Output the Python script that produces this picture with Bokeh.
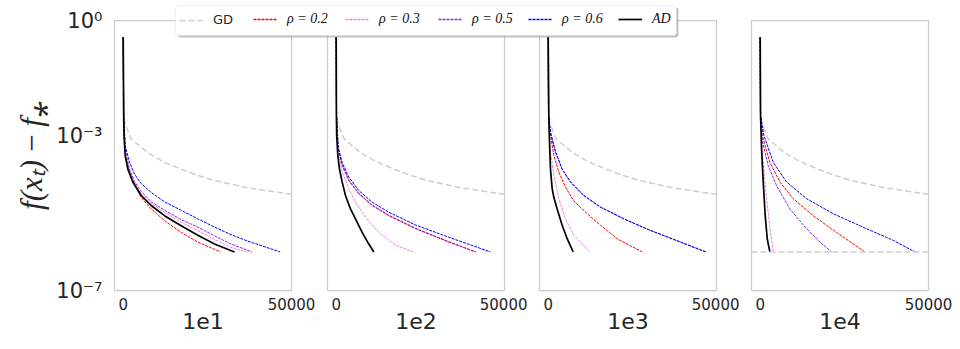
from bokeh.plotting import figure
from bokeh.models import (Range1d, FixedTicker, CustomJSTickFormatter, Span, Legend,
                          LegendItem, BoxAnnotation)
from bokeh.layouts import row, column
from bokeh.embed import file_html
from bokeh.resources import INLINE

# ---------------- data ----------------
PANELS = ["1e1", "1e2", "1e3", "1e4"]
X_TICKS = [0, 50000]
Y_TICKS = [1e-7, 1e-3, 1e0]
TOL = 1e-6
SERIES = ["GD", "ρ = 0.2", "ρ = 0.3", "ρ = 0.5", "ρ = 0.6", "AD"]

gd_x = [0, 100, 387, 2367, 7317, 12270, 17222, 22173, 27125, 37040, 50000]
gd_y = [3.7e-1, 5.0e-3, 2.3e-3, 8.5e-4, 3.7e-4, 2.1e-4, 1.4e-4, 9.6e-5, 7.1e-5, 4.6e-5, 3.1e-5]

# panel 1e1
r02_1e1_x = [0, 150, 387, 1377, 2862, 5338, 8307, 12270, 17222, 22173, 28907]
r02_1e1_y = [3.7e-1, 3.5e-3, 5.8e-4, 1.75e-4, 7.1e-5, 2.6e-5, 1.3e-5, 6.5e-6, 3.2e-6, 1.8e-6, 1.0e-6]
r03_1e1_x = [0, 150, 584, 1872, 3357, 5338, 8307, 12270, 17222, 22173, 27125, 32077, 36830]
r03_1e1_y = [3.7e-1, 3.5e-3, 3.9e-4, 1.3e-4, 5.9e-5, 3.2e-5, 1.8e-5, 1.07e-5, 5.9e-6, 3.6e-6, 2.1e-6, 1.3e-6, 1.0e-6]
r05_1e1_x = [0, 150, 584, 1872, 3357, 5338, 8307, 12270, 17222, 22173, 27125, 32077, 38220]
r05_1e1_y = [3.7e-1, 3.5e-3, 4.3e-4, 1.4e-4, 6.7e-5, 3.7e-5, 2.0e-5, 1.2e-5, 6.9e-6, 4.4e-6, 2.6e-6, 1.6e-6, 1.0e-6]
r06_1e1_x = [0, 150, 584, 1872, 3357, 5338, 8307, 12270, 17222, 22173, 27125, 32077, 37040, 46640]
r06_1e1_y = [3.7e-1, 3.5e-3, 5.8e-4, 2.1e-4, 1.05e-4, 5.9e-5, 3.5e-5, 2.0e-5, 1.2e-5, 7.2e-6, 4.4e-6, 2.8e-6, 1.9e-6, 1.0e-6]
ad_1e1_x = [0, 150, 250, 584, 1377, 2862, 5338, 8307, 12270, 17222, 22173, 27125, 33067]
ad_1e1_y = [3.7e-1, 3.5e-3, 1.05e-3, 3.2e-4, 1.4e-4, 6.5e-5, 2.9e-5, 1.6e-5, 8.7e-6, 4.8e-6, 2.7e-6, 1.6e-6, 1.0e-6]

# panel 1e2
r02_1e2_x = [0, 100, 584, 1773, 3754, 6725, 10686, 15637, 23560, 33463, 41584]
r02_1e2_y = [3.7e-1, 3.5e-3, 4.7e-4, 1.75e-4, 7.1e-5, 3.2e-5, 1.6e-5, 8.7e-6, 4.0e-6, 1.8e-6, 1.0e-6]
r03_1e2_x = [0, 100, 584, 1773, 3754, 5734, 8705, 12666, 17617, 22866]
r03_1e2_y = [3.7e-1, 3.5e-3, 3.9e-4, 1.17e-4, 4.4e-5, 1.95e-5, 7.9e-6, 3.2e-6, 1.5e-6, 1.0e-6]
r05_1e2_x = [0, 100, 584, 1773, 3754, 6725, 10686, 15637, 23560, 33463, 41300]
r05_1e2_y = [3.7e-1, 3.5e-3, 4.8e-4, 1.8e-4, 7.3e-5, 3.3e-5, 1.65e-5, 9.0e-6, 4.1e-6, 1.85e-6, 1.0e-6]
r06_1e2_x = [0, 100, 584, 1773, 3754, 6725, 10686, 15637, 23560, 33463, 45840]
r06_1e2_y = [3.7e-1, 3.5e-3, 5.2e-4, 2.1e-4, 8.7e-5, 3.9e-5, 1.95e-5, 1.07e-5, 5.0e-6, 2.4e-6, 1.0e-6]
ad_1e2_x = [0, 60, 150, 485, 980, 1773, 2763, 4248, 5734, 7715, 9695, 11180]
ad_1e2_y = [3.7e-1, 3.5e-3, 1.05e-3, 3.2e-4, 1.4e-4, 6.5e-5, 2.9e-5, 1.3e-5, 7.2e-6, 3.2e-6, 1.6e-6, 1.0e-6]

# panel 1e3
r02_1e3_x = [0, 100, 683, 1674, 3160, 5140, 7616, 11577, 15539, 20490, 27918]
r02_1e3_y = [3.7e-1, 3.5e-3, 1.05e-3, 3.2e-4, 1.17e-4, 4.8e-5, 2.1e-5, 9.8e-6, 4.9e-6, 2.2e-6, 1.0e-6]
r03_1e3_x = [0, 100, 683, 1674, 3160, 5140, 7616, 12370]
r03_1e3_y = [3.7e-1, 3.5e-3, 3.9e-4, 9.6e-5, 2.4e-5, 7.2e-6, 2.7e-6, 1.0e-6]
r05_1e3_x = [0, 100, 683, 2169, 4150, 6626, 10587, 15539, 22471, 30394, 39307, 46700]
r05_1e3_y = [3.7e-1, 3.5e-3, 1.26e-3, 3.9e-4, 1.4e-4, 6.5e-5, 2.9e-5, 1.45e-5, 7.2e-6, 3.6e-6, 1.8e-6, 1.0e-6]
r06_1e3_x = [0, 100, 683, 2169, 4150, 6626, 10587, 15539, 22471, 30394, 39307, 46932]
r06_1e3_y = [3.7e-1, 3.5e-3, 1.26e-3, 3.9e-4, 1.4e-4, 6.5e-5, 2.9e-5, 1.45e-5, 7.2e-6, 3.6e-6, 1.8e-6, 1.0e-6]
ad_1e3_x = [0, 188, 386, 683, 1179, 1674, 2664, 4150, 5635, 7418]
ad_1e3_y = [3.7e-1, 3.5e-3, 7.1e-4, 1.4e-4, 4.4e-5, 2.6e-5, 1.3e-5, 4.9e-6, 2.2e-6, 1.0e-6]

# panel 1e4
r02_1e4_x = [0, 100, 901, 2881, 5853, 9814, 15756, 22688, 31106]
r02_1e4_y = [3.7e-1, 3.5e-3, 8.5e-4, 2.1e-4, 6.5e-5, 2.4e-5, 8.7e-6, 3.2e-6, 1.0e-6]
r03_1e4_x = [0, 100, 703, 1594, 2683, 3872]
r03_1e4_y = [3.7e-1, 3.5e-3, 3.2e-4, 4.4e-5, 5.9e-6, 1.0e-6]
r05_1e4_x = [0, 100, 703, 2386, 4862, 8824, 13776, 17737, 21203]
r05_1e4_y = [3.7e-1, 3.5e-3, 7.1e-4, 1.75e-4, 5.2e-5, 1.3e-5, 4.0e-6, 1.8e-6, 1.0e-6]
r06_1e4_x = [0, 100, 1099, 3872, 7833, 13776, 21698, 31601, 39524, 45961]
r06_1e4_y = [3.7e-1, 3.5e-3, 1.05e-3, 2.1e-4, 6.5e-5, 2.4e-5, 9.8e-6, 4.0e-6, 2.0e-6, 1.0e-6]
ad_1e4_x = [0, 109, 406, 901, 1495, 2089, 2881]
ad_1e4_y = [3.7e-1, 3.5e-3, 4.7e-4, 6.5e-5, 8.7e-6, 2.2e-6, 1.0e-6]

DATA = {
    "1e1": [(gd_x, gd_y), (r02_1e1_x, r02_1e1_y), (r03_1e1_x, r03_1e1_y),
            (r05_1e1_x, r05_1e1_y), (r06_1e1_x, r06_1e1_y), (ad_1e1_x, ad_1e1_y)],
    "1e2": [(gd_x, gd_y), (r02_1e2_x, r02_1e2_y), (r03_1e2_x, r03_1e2_y),
            (r05_1e2_x, r05_1e2_y), (r06_1e2_x, r06_1e2_y), (ad_1e2_x, ad_1e2_y)],
    "1e3": [(gd_x, gd_y), (r02_1e3_x, r02_1e3_y), (r03_1e3_x, r03_1e3_y),
            (r05_1e3_x, r05_1e3_y), (r06_1e3_x, r06_1e3_y), (ad_1e3_x, ad_1e3_y)],
    "1e4": [(gd_x, gd_y), (r02_1e4_x, r02_1e4_y), (r03_1e4_x, r03_1e4_y),
            (r05_1e4_x, r05_1e4_y), (r06_1e4_x, r06_1e4_y), (ad_1e4_x, ad_1e4_y)],
}

# ---------------- styles ----------------
COLORS = ["#d0d0d0", "#ff0000", "#ee82ee", "#8a2be2", "#0000ff", "#000000"]
DASHES = ["6 3", "3 1", "3 1", "3 1", "3 1", "solid"]
WIDTHS = [1.6, 1.0, 1.0, 1.0, 1.0, 1.7]
TXT = "#262626"

y_fmt = CustomJSTickFormatter(code="""
const e = Math.round(Math.log10(tick));
const sup = {"0":"\u2070","1":"\u00b9","2":"\u00b2","3":"\u00b3","4":"\u2074",
             "5":"\u2075","6":"\u2076","7":"\u2077","8":"\u2078","9":"\u2079","-":"\u207b"};
return "10" + String(e).split("").map(c => sup[c]).join("");
""")

borders = [(114, 24), (12, 23), (12, 23), (12, 24)]
figs = []
for i, name in enumerate(PANELS):
    bl, br = borders[i]
    p = figure(frame_width=177, frame_height=270,
               x_range=Range1d(-2580, 50000), y_range=Range1d(1e-7, 1e0),
               y_axis_type="log", output_backend="svg", toolbar_location=None,
               min_border_left=bl, min_border_right=br, min_border_top=20,
               min_border_bottom=51,
               y_axis_location="left" if i == 0 else None)
    p.background_fill_color = "white"
    p.border_fill_color = "white"
    p.outline_line_color = "#cccccc"
    p.outline_line_width = 1.25
    p.xgrid.visible = False
    p.ygrid.visible = False

    xa = p.xaxis[0]
    xa.ticker = FixedTicker(ticks=X_TICKS)
    xa.axis_label = name
    xa.axis_label_text_font = "DejaVu Sans"
    xa.axis_label_text_font_style = "normal"
    xa.axis_label_text_font_size = "22px"
    xa.axis_label_text_color = TXT
    xa.axis_label_standoff = 0
    xa.major_label_text_font = "DejaVu Sans"
    xa.major_label_text_font_size = "15px"
    xa.major_label_text_color = TXT
    xa.major_label_standoff = 7
    xa.major_tick_out = 0
    xa.major_tick_in = 0
    xa.minor_tick_out = 0
    xa.minor_tick_in = 0
    xa.axis_line_color = None

    if i == 0:
        ya = p.yaxis[0]
        ya.ticker = FixedTicker(ticks=Y_TICKS)
        ya.formatter = y_fmt
        ya.axis_label = "f(xₜ)\u2009−\u2009f⁎"
        ya.axis_label_text_font = "Liberation Serif"
        ya.axis_label_text_font_style = "italic"
        ya.axis_label_text_font_size = "31px"
        ya.axis_label_text_color = TXT
        ya.axis_label_standoff = 4
        ya.major_label_text_font = "DejaVu Sans"
        ya.major_label_text_font_size = "21px"
        ya.major_label_text_color = TXT
        ya.major_label_standoff = 12
        ya.major_tick_out = 0
        ya.major_tick_in = 0
        ya.minor_tick_out = 0
        ya.minor_tick_in = 0
        ya.axis_line_color = None

    if name == "1e4":
        p.add_layout(Span(location=TOL, dimension="width", line_color=COLORS[0],
                          line_dash=DASHES[0], line_width=WIDTHS[0]))

    for (xs, ys), c, d, w in zip(DATA[name], COLORS, DASHES, WIDTHS):
        p.line(xs, ys, line_color=c, line_dash=d, line_width=w)
    figs.append(p)

# ---------------- legend overlay ----------------
lf = figure(width=952, height=36, x_range=Range1d(0, 952), y_range=Range1d(36, 0),
            output_backend="svg", toolbar_location=None, min_border=0,
            x_axis_location=None, y_axis_location=None)
lf.outline_line_color = None
lf.background_fill_alpha = 0
lf.border_fill_alpha = 0
lf.xgrid.visible = False
lf.ygrid.visible = False

lf.add_layout(BoxAnnotation(left=177, right=678, top=4, bottom=34, fill_color="#888888",
                            fill_alpha=0.5, line_color=None, border_radius=3))
lf.add_layout(BoxAnnotation(left=175, right=676, top=2, bottom=32, fill_color="white",
                            fill_alpha=1.0, line_color="#cccccc", line_width=1,
                            border_radius=3))

item_x = [179, 253, 345, 438, 528, 618]
for k, (lab, c, d, w) in enumerate(zip(SERIES, COLORS, DASHES, WIDTHS)):
    # sample-only renderer, kept outside the visible range of the legend strip
    r = lf.line(x=[-100, -90], y=[-100, -90], line_color=c, line_dash=d,
                line_width=max(w, 1.3))
    sans = (k == 0)
    leg = Legend(items=[LegendItem(label=lab, renderers=[r])],
                 location=(item_x[k], 12), orientation="horizontal",
                 padding=0, margin=0, border_line_color=None,
                 background_fill_alpha=0, glyph_width=24, glyph_height=14,
                 label_height=14, label_standoff=10,
                 label_text_font="DejaVu Sans" if sans else "Liberation Serif",
                 label_text_font_style="normal" if sans else "italic",
                 label_text_font_size="13px" if sans else "14px",
                 label_text_color=TXT if sans else "#111111")
    lf.add_layout(leg)

lf.margin = (-338, 0, 0, 0)

layout = column(row(*figs, spacing=0), lf, spacing=0)
open("out.html", "w").write(file_html(layout, INLINE))
